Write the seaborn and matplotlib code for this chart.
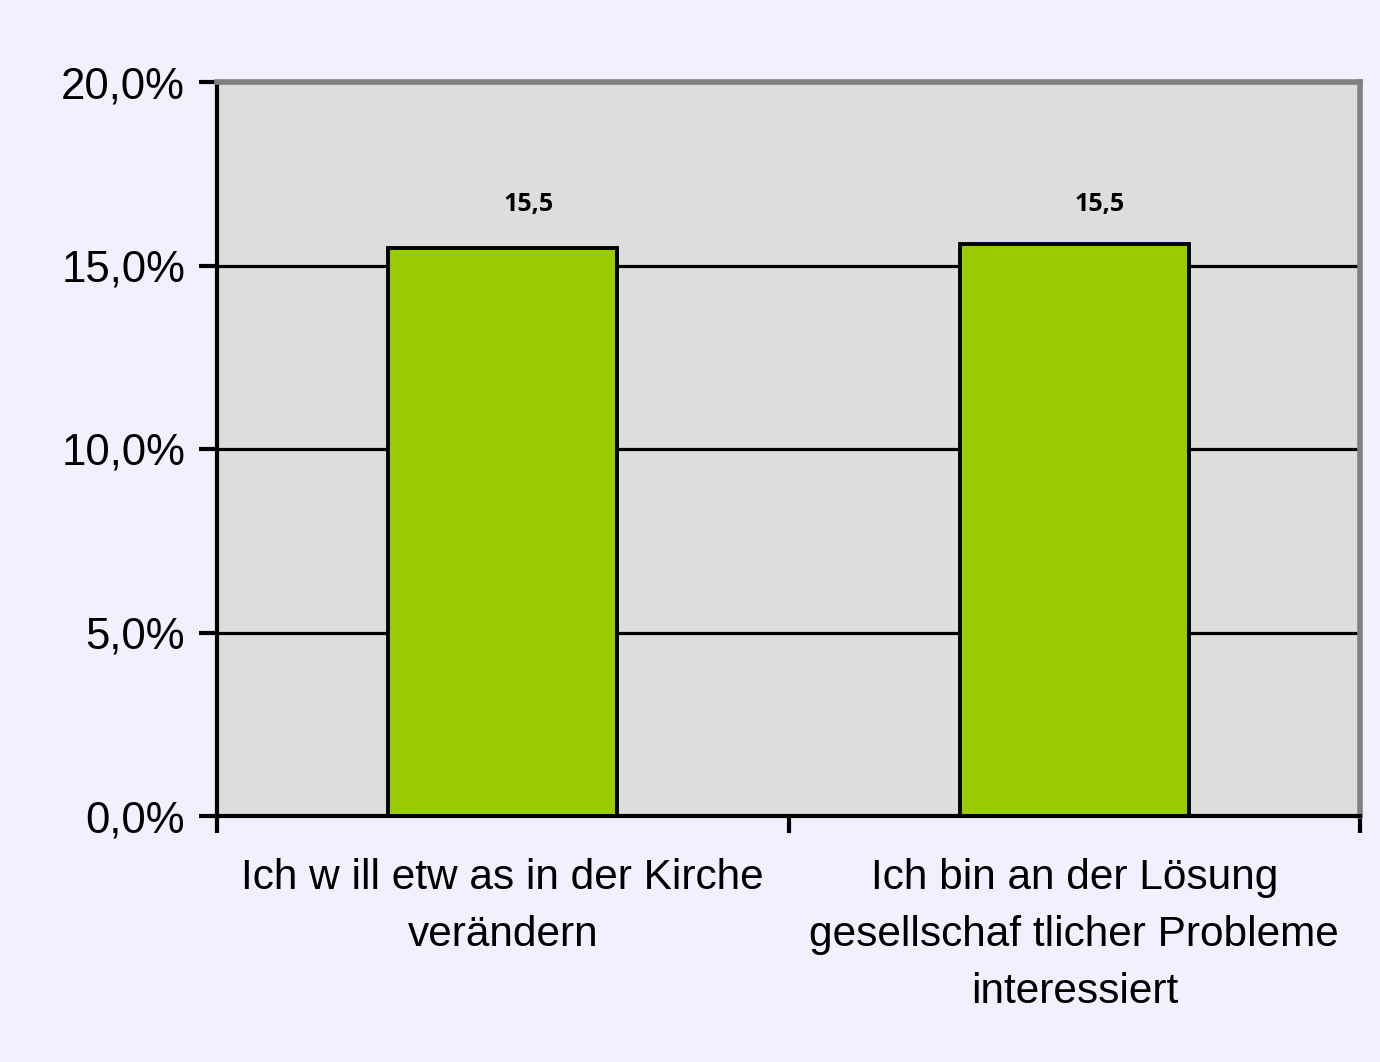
import seaborn as sns
import pandas as pd
import matplotlib.pyplot as plt
from matplotlib.ticker import FuncFormatter

categories = ["Ich w ill etw as in der Kirche\nverändern",
              "Ich bin an der Lösung\ngesellschaf tlicher Probleme\ninteressiert"]
values = [15.47, 15.58]
bar_labels = ["15,5", "15,5"]

df = pd.DataFrame({"cat": categories, "val": values})

sns.set_style("white")
plt.rcParams['font.family'] = ['Liberation Sans', 'DejaVu Sans']
plt.rcParams['text.color'] = 'black'
plt.rcParams['xtick.color'] = 'black'
plt.rcParams['ytick.color'] = 'black'

fig = plt.figure(figsize=(13.8, 10.62), dpi=100, facecolor="#F0F0FE")
ax = fig.add_axes([217 / 1380, 1 - 816 / 1062, (1360 - 217) / 1380, (816 - 82) / 1062])
ax.set_facecolor("#DDDDDD")

sns.barplot(x="cat", y="val", data=df, color="#99CC00", width=0.4,
            edgecolor="black", linewidth=2.8, saturation=1, ax=ax, zorder=3)

ax.set_ylim(0, 20)
ax.set_xlim(-0.5, 1.5)
ax.set_yticks([0, 5, 10, 15, 20])
ax.yaxis.set_major_formatter(FuncFormatter(lambda v, p: ("%.1f%%" % v).replace(".", ",")))
ax.grid(axis="y", color="black", linewidth=2.3, zorder=1)
ax.set_axisbelow(True)

# category tick marks at boundaries, labels centered without marks
ax.set_xticks([0, 1])
ax.set_xticklabels(categories, fontsize=30.5, linespacing=1.55)
ax.tick_params(axis="x", which="major", bottom=True, length=0, pad=30, labelcolor="black")
ax.set_xticks([-0.5, 0.5, 1.5], minor=True)
ax.tick_params(axis="x", which="minor", bottom=True, length=12, width=3,
               color="black", direction="out")
ax.tick_params(axis="y", left=True, labelsize=31.5, length=13, width=3, color="black",
               direction="out", pad=10, labelcolor="black")
ax.set_xlabel("")
ax.set_ylabel("")

for s in ["left", "bottom"]:
    ax.spines[s].set_color("black")
    ax.spines[s].set_linewidth(3)
for s in ["top", "right"]:
    ax.spines[s].set_color("#808080")
    ax.spines[s].set_linewidth(4)

for i, lab in enumerate(bar_labels):
    ax.text(i + 0.045, 16.65, lab, ha="center", va="center", fontsize=18,
            fontweight="bold", color="black", family=["Open Sans", "DejaVu Sans"])

plt.savefig("out.png", dpi=100, facecolor=fig.get_facecolor())
